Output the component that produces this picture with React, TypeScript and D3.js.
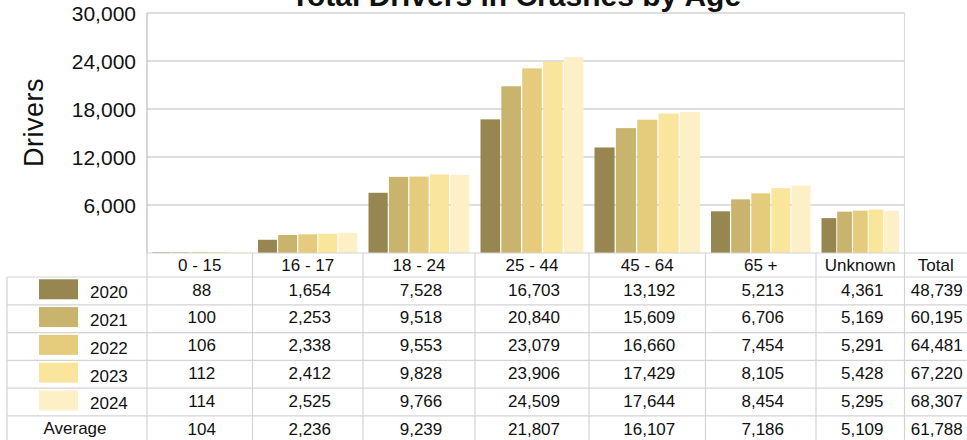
import React from 'react';
import * as d3 from 'd3';

const categories = ['0 - 15', '16 - 17', '18 - 24', '25 - 44', '45 - 64', '65 +', 'Unknown'];
const years = ['2020', '2021', '2022', '2023', '2024'];
const values2020 = [88, 1654, 7528, 16703, 13192, 5213, 4361];
const values2021 = [100, 2253, 9518, 20840, 15609, 6706, 5169];
const values2022 = [106, 2338, 9553, 23079, 16660, 7454, 5291];
const values2023 = [112, 2412, 9828, 23906, 17429, 8105, 5428];
const values2024 = [114, 2525, 9766, 24509, 17644, 8454, 5295];
const averages = [104, 2236, 9239, 21807, 16107, 7186, 5109];
const yearTotals = [48739, 60195, 64481, 67220, 68307];
const averageTotal = 61788;
const yTicks = [6000, 12000, 18000, 24000, 30000];
const seriesColors = ['#978650', '#c8b46d', '#e5cc7c', '#fae59d', '#fdefc6'];

const series = [values2020, values2021, values2022, values2023, values2024];

const W = 967;
const H = 440;
const FONT = '"Liberation Sans", Arial, sans-serif';

export default function App() {
  const plotLeft = 147;
  const plotRight = 904.5;
  const plotTop = 13;
  const plotBottom = 253;
  const tableLeft = 7;
  const tableRight = 967;
  const rowTop0 = 277;
  const rowH = 27.78;

  // relative column widths of the data table (layout)
  const colWeights = [105.5, 110.5, 112, 114, 116.5, 110.5, 88.5];
  const cum = [0];
  colWeights.forEach((w) => cum.push(cum[cum.length - 1] + w));
  const xCol = d3.scaleLinear().domain([0, cum[cum.length - 1]]).range([plotLeft, plotRight]);
  const colEdges = cum.map((c) => xCol(c));

  const y = d3.scaleLinear().domain([0, 30000]).range([plotBottom, plotTop]);
  const fmt = d3.format(',');

  const totalCenter = (plotRight + tableRight) / 2;
  const rowLabels = [...years, 'Average'];
  const tableRows = [...series, averages];
  const rowTotals = [...yearTotals, averageTotal];

  const gridColor = '#bdbdbd';
  const tableColor = '#d3d3d3';

  return (
    <svg
      width={W}
      height={H}
      style={{ position: 'absolute', left: 0, top: 0, background: '#fff' }}
      fontFamily={FONT}
    >
      <rect x={0} y={0} width={W} height={H} fill="#fff" />
      {/* gridlines */}
      {yTicks.map((t) => (
        <line key={t} x1={plotLeft} x2={plotRight} y1={y(t)} y2={y(t)} stroke={gridColor} strokeWidth={1.2} />
      ))}
      {/* plot frame */}
      <line x1={plotLeft} x2={plotLeft} y1={plotTop} y2={plotBottom} stroke={gridColor} strokeWidth={1.2} />
      <line x1={plotRight} x2={plotRight} y1={plotTop} y2={plotBottom} stroke="#d9d9d9" strokeWidth={1.2} />
      {/* y tick labels */}
      {yTicks.map((t) => (
        <text key={'l' + t} x={136} y={y(t)} dy="0.36em" textAnchor="end" fontSize={21} fill="#111">
          {fmt(t)}
        </text>
      ))}
      {/* y axis title */}
      <text
        transform={`translate(43,122.5) rotate(-90)`}
        textAnchor="middle"
        fontSize={27}
        fill="#111"
        letterSpacing={0.5}
      >
        Drivers
      </text>
      {/* title */}
      <text x={516} y={5.5} textAnchor="middle" fontSize={30} fontWeight="bold" fill="#111">
        Total Drivers in Crashes by Age
      </text>
      {/* bars */}
      {categories.map((c, ci) => {
        const inner = d3
          .scaleBand<string>()
          .domain(years)
          .range([colEdges[ci] + 5.5, colEdges[ci + 1] - 5.5])
          .paddingInner(0.06);
        return (
          <g key={c}>
            {series.map((s, si) => (
              <rect
                key={si}
                x={inner(years[si])}
                width={inner.bandwidth()}
                y={y(s[ci])}
                height={y(0) - y(s[ci])}
                fill={seriesColors[si]}
              />
            ))}
          </g>
        );
      })}
      {/* table: header row */}
      <line x1={plotLeft} x2={tableRight} y1={plotBottom} y2={plotBottom} stroke={tableColor} strokeWidth={1.2} />
      {categories.map((c, ci) => (
        <text
          key={'h' + c}
          x={(colEdges[ci] + colEdges[ci + 1]) / 2}
          y={271}
          textAnchor="middle"
          fontSize={17}
          fill="#111"
        >
          {c}
        </text>
      ))}
      <text x={totalCenter} y={271} textAnchor="middle" fontSize={17} fill="#111">
        Total
      </text>
      {/* horizontal row lines */}
      {rowLabels.map((r, ri) => (
        <line
          key={'rl' + r}
          x1={tableLeft}
          x2={tableRight}
          y1={rowTop0 + ri * rowH}
          y2={rowTop0 + ri * rowH}
          stroke={tableColor}
          strokeWidth={1.2}
        />
      ))}
      {/* vertical lines */}
      <line x1={tableLeft} x2={tableLeft} y1={rowTop0} y2={H} stroke={tableColor} strokeWidth={1.2} />
      {colEdges.map((e, i) => (
        <line key={'v' + i} x1={e} x2={e} y1={plotBottom} y2={H} stroke={tableColor} strokeWidth={1.2} />
      ))}
      {/* rows */}
      {rowLabels.map((r, ri) => {
        const top = rowTop0 + ri * rowH;
        const isAvg = ri === years.length;
        return (
          <g key={'row' + r}>
            {isAvg ? (
              <text x={75} y={top + 17.8} textAnchor="middle" fontSize={17} fill="#111">
                {r}
              </text>
            ) : (
              <>
                <rect x={39} y={top + 2.3} width={39} height={20} fill={seriesColors[ri]} />
                <text x={90} y={top + 21.3} fontSize={17} fill="#111">
                  {r}
                </text>
              </>
            )}
            {tableRows[ri].map((v, ci) => (
              <text
                key={ci}
                x={(colEdges[ci] + colEdges[ci + 1]) / 2 + 2}
                y={top + 18.7}
                textAnchor="middle"
                fontSize={17}
                fill="#111"
              >
                {fmt(v)}
              </text>
            ))}
            <text x={totalCenter + 1} y={top + 18.7} textAnchor="middle" fontSize={17} fill="#111">
              {fmt(rowTotals[ri])}
            </text>
          </g>
        );
      })}
    </svg>
  );
}
